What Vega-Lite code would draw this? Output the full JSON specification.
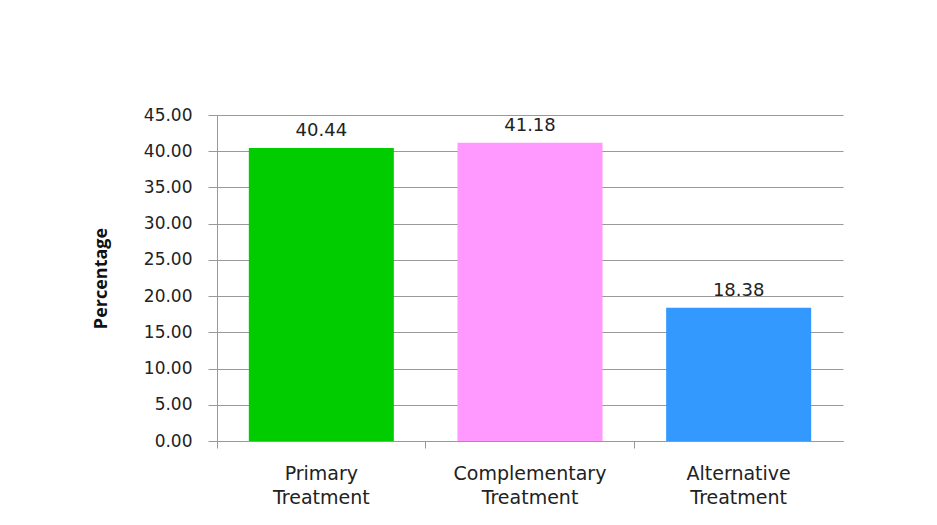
{
  "$schema": "https://vega.github.io/schema/vega-lite/v6.json",
  "width": 626,
  "height": 326,
  "autosize": {"type": "none"},
  "padding": {"left": 217, "top": 115, "right": 94, "bottom": 84},
  "background": "white",
  "config": {"view": {"stroke": null}},
  "data": {
    "values": [
      {"category": "Primary Treatment", "percentage": 40.44},
      {"category": "Complementary Treatment", "percentage": 41.18},
      {"category": "Alternative Treatment", "percentage": 18.38}
    ]
  },
  "encoding": {
    "x": {
      "field": "category",
      "type": "nominal",
      "sort": null,
      "scale": {"paddingInner": 0.305, "paddingOuter": 0.1525},
      "axis": {
        "title": null,
        "labelAngle": 0,
        "labelExpr": "split(datum.value, ' ')",
        "labelFont": "DejaVu Sans",
        "labelFontSize": 19,
        "labelColor": "#222222",
        "labelLineHeight": 24,
        "labelBaseline": "top",
        "labelPadding": 16,
        "tickSize": 7,
        "tickColor": "#999999",
        "domainColor": "#999999",
        "bandPosition": -0.219,
        "grid": false
      }
    },
    "y": {
      "field": "percentage",
      "type": "quantitative",
      "scale": {"domain": [0, 45], "nice": false, "zero": true},
      "axis": {
        "title": "Percentage",
        "titleFont": "Open Sans",
        "titleFontWeight": "bold",
        "titleFontSize": 18,
        "titleColor": "#111111",
        "titlePadding": 33,
        "values": [0, 5, 10, 15, 20, 25, 30, 35, 40, 45],
        "format": ".2f",
        "labelFont": "DejaVu Sans",
        "labelFontSize": 17,
        "labelColor": "#222222",
        "labelPadding": 16,
        "tickSize": 9,
        "tickColor": "#999999",
        "domainColor": "#999999",
        "grid": true,
        "gridColor": "#999999",
        "gridWidth": 1
      }
    }
  },
  "layer": [
    {
      "mark": {"type": "bar"},
      "encoding": {
        "color": {
          "field": "category",
          "type": "nominal",
          "scale": {
            "domain": ["Primary Treatment", "Complementary Treatment", "Alternative Treatment"],
            "range": ["#00CC00", "#FF99FF", "#3399FF"]
          },
          "legend": null
        }
      }
    },
    {
      "mark": {
        "type": "text",
        "font": "DejaVu Sans",
        "fontSize": 18,
        "color": "#222222",
        "baseline": "alphabetic",
        "dy": -11.6
      },
      "encoding": {
        "text": {"field": "percentage", "type": "quantitative", "format": ".2f"}
      }
    }
  ]
}
